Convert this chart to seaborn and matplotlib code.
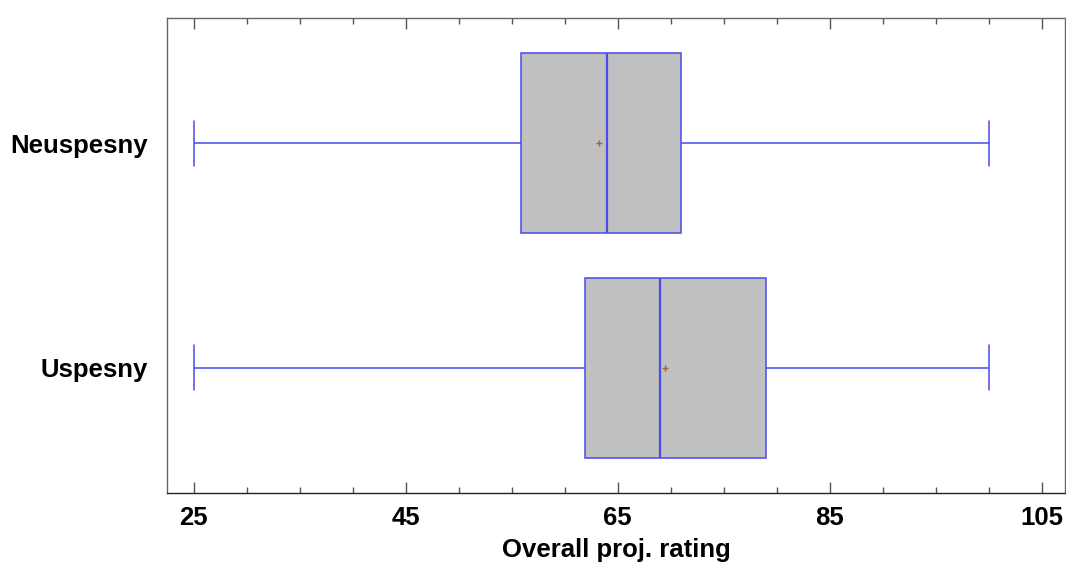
import pandas as pd
import numpy as np
import matplotlib.pyplot as plt
import seaborn as sns
from matplotlib.ticker import MultipleLocator

# values (five-number summary + mean per group)
groups = ['Neuspesny', 'Uspesny']
whisker_lo = [25.0, 25.0]
q1 = [55.9, 61.9]
median = [64.0, 69.0]
q3 = [71.0, 79.0]
whisker_hi = [100.0, 100.0]
means = [63.2, 69.5]

# long table: each group gets its five summary points
rows = []
for i, g in enumerate(groups):
    for v in [whisker_lo[i], q1[i], median[i], q3[i], whisker_hi[i]]:
        rows.append({'group': g, 'rating': v})
df = pd.DataFrame(rows)
mean_df = pd.DataFrame({'group': groups, 'rating': means})

sns.set_style('white')
plt.rcParams['font.family'] = ['Liberation Sans', 'DejaVu Sans']

fig = plt.figure(figsize=(10.66, 5.63), dpi=100)
ax = fig.add_axes([0.1567, 0.1243, 0.8424, 0.8437])

blue = '#4a4af0'
sns.boxplot(data=df, x='rating', y='group', order=groups, orient='h',
            whis=(0, 100), width=0.8, color='#c0c0c0', saturation=1,
            linewidth=1.1, fliersize=0, ax=ax, capwidths=0.2,
            boxprops=dict(facecolor='#c0c0c0', edgecolor=blue),
            whiskerprops=dict(color=blue), capprops=dict(color=blue),
            medianprops=dict(color=blue, linewidth=1.6))
sns.scatterplot(data=mean_df, x='rating', y='group', marker='+', s=22,
                color='#b0602a', linewidth=1.0, ax=ax, zorder=5)

ax.set_xlim(22.5, 107.2)
ax.set_ylim(1.556, -0.556)
ax.xaxis.set_minor_locator(MultipleLocator(5))
ax.set_xticks([25, 45, 65, 85, 105])
ax.tick_params(axis='x', which='major', direction='in', length=8, width=1,
               top=True, bottom=True, colors='#555555', labelcolor='black',
               labelsize=18.5, pad=9)
ax.tick_params(axis='x', which='minor', direction='in', length=4, width=1,
               top=True, bottom=True, colors='#555555')
ax.tick_params(axis='y', length=0, labelsize=18.5, pad=13.5, labelcolor='black')
for lab in ax.get_xticklabels() + ax.get_yticklabels():
    lab.set_fontweight('bold')

for s in ax.spines.values():
    s.set_visible(True)
    s.set_color('#666666')
    s.set_linewidth(1)
ax.spines['bottom'].set_color('#222222')

ax.set_xlabel('Overall proj. rating', fontsize=18.5, fontweight='bold',
              color='black', labelpad=6)
ax.set_ylabel('')

fig.savefig('out.png', dpi=100)
